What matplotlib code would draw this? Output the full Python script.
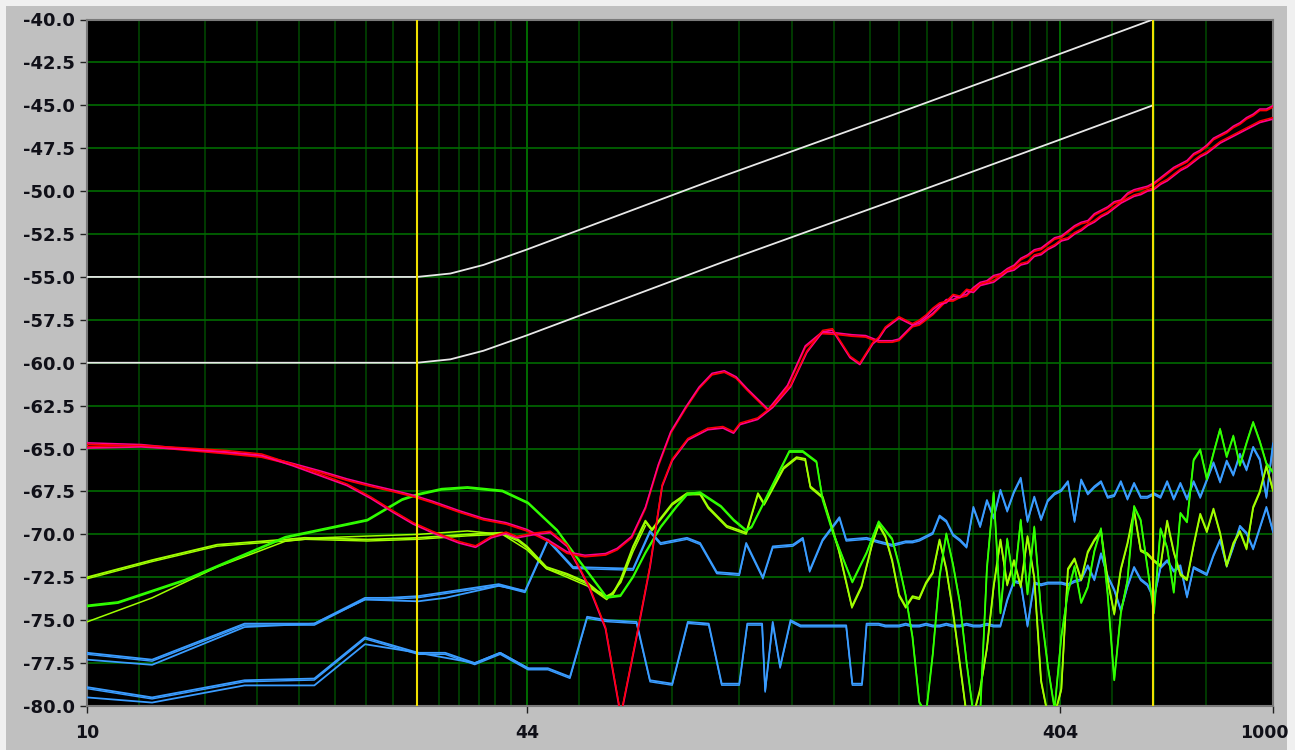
import numpy as np
import matplotlib.pyplot as plt
from matplotlib.patches import Rectangle
from matplotlib.transforms import offset_copy, ScaledTranslation

# frequency axis is log-like but piecewise between the labelled frequencies
AXIS_LOG_HZ = np.log10([10.0, 44.0, 404.0, 1000.0])
AXIS_FRAC = np.array([0.0, 0.371, 0.8204, 1.0])


def hz_to_frac(v):
    v = np.asarray(v, dtype=float)
    return np.interp(np.log10(np.clip(v, 1e-6, None)), AXIS_LOG_HZ, AXIS_FRAC)


def frac_to_hz(p):
    return 10 ** np.interp(p, AXIS_FRAC, AXIS_LOG_HZ)


# ---- limit lines ----
lim_hz = [10, 30.4, 34, 38, 44, 100, 200, 404, 600]
lim_hi_db = [-55.0, -55.0, -54.8, -54.3, -53.4, -49.1, -45.6, -42.0, -40.0]
lim_lo_db = [-60.0, -60.0, -59.8, -59.3, -58.4, -54.1, -50.6, -47.0, -45.0]

cursor_hz = [30.4, 600]

# ---- low-frequency part of the measured traces ----
ru_lo_hz = [10, 12, 14, 16, 18, 20, 22, 24, 26, 28, 30, 32, 35, 38, 41, 44, 48, 52, 56, 61,
            64, 68, 72, 76, 80, 85, 90, 95, 100, 105, 110, 120, 130, 140, 150, 160, 170, 180]
ru_lo_db = [-64.75, -64.85, -65.1, -65.3, -65.5, -65.95, -66.4, -66.85, -67.2, -67.5, -67.8, -68.15,
            -68.7, -69.15, -69.4, -69.8, -70.4, -71.1, -71.3, -71.2, -70.9, -70.2, -68.5, -66.0,
            -64.1, -62.7, -61.5, -60.7, -60.55, -60.9, -61.6, -62.8, -61.4, -59.1, -58.3, -58.35,
            -58.45, -58.5]

rl_lo_hz = [10, 12, 14, 16, 18, 20, 22, 24, 26, 28, 30, 32, 35, 37, 39, 41, 42.5, 45.5, 48.5, 52,
            54.5, 57, 61, 63, 65, 69.6, 73.4, 77.2, 80.5, 85.9, 93.3, 99.4, 103.9, 106.7, 114.8,
            122.3, 131.7, 140.9, 150.5, 156.8, 168.7, 175.7, 185.4]
rl_lo_db = [-64.97, -64.9, -65.05, -65.2, -65.4, -66.0, -66.6, -67.15, -67.9, -68.7, -69.4, -69.9,
            -70.5, -70.75, -70.2, -69.95, -70.2, -70.0, -69.9, -70.7, -71.9, -73.1, -75.5, -78.1,
            -80.6, -75.8, -71.9, -67.2, -65.7, -64.5, -63.9, -63.8, -64.1, -63.6, -63.3, -62.6,
            -61.4, -59.4, -58.2, -58.1, -59.7, -60.1, -58.9]

ga_lo_hz = [10, 11.1, 13.9, 19.5, 25.7, 28.9, 30.5, 33, 36, 40.5, 44.2, 49.9, 54.5, 61.3, 64.9,
            68.4, 72, 76.7, 82, 85.6, 90.4, 98.6, 104, 109.5, 112, 122, 131, 138.6, 146.7, 150.5,
            157, 166, 170.3, 180.7]
ga_lo_db = [-74.2, -74.0, -72.7, -70.2, -69.2, -68.0, -67.7, -67.4, -67.3, -67.5, -68.2, -69.8,
            -71.5, -73.7, -73.6, -72.5, -71.1, -69.6, -68.4, -67.7, -67.6, -68.4, -69.2, -69.8,
            -69.6, -67.2, -65.2, -65.2, -65.8, -68.0, -69.9, -71.9, -72.8, -71.1]

gb_lo_hz = [10, 12.45, 15.5, 19.5, 20.8, 25.7, 30.5, 36, 40.5, 42.7, 44, 47.7, 52, 56.5, 59,
            61.3, 63, 65, 68.4, 72, 74, 80.5, 85.6, 90.4, 93.5, 101, 109.5, 115, 118, 128, 135,
            140, 143, 150.5, 161, 170, 177, 185]
gb_lo_db = [-72.5, -71.5, -70.6, -70.3, -70.2, -70.3, -70.2, -70.0, -69.9, -70.3, -70.7, -71.9,
            -72.3, -72.8, -73.3, -73.6, -73.4, -72.6, -70.7, -69.2, -69.7, -68.2, -67.6, -67.6,
            -68.4, -69.5, -69.9, -67.6, -68.2, -66.1, -65.5, -65.6, -67.2, -67.8, -70.9, -74.2,
            -73.0, -70.5]

gc_hz = [10, 12.45, 15.5, 19.5, 21.9, 25.7, 30.5, 36, 40.5, 44, 47.7, 52, 56.5, 61.3, 65, 68.4, 72]
gc_db = [-75.1, -73.7, -71.9, -70.4, -70.2, -70.1, -70.0, -69.8, -70.0, -70.9, -72.0, -72.5,
         -73.0, -73.8, -72.8, -71.0, -69.5]

b1_lo_hz = [10, 12.45, 17, 21.5, 25.5, 27.5, 30.5, 40, 43.7, 48, 53.3, 68.4, 73.4, 76.7, 85.6,
            90.4, 96.9, 106.4, 109.5, 117.4, 122.3, 133, 138.6, 142.6, 150.5, 161.4, 166, 180.7]
b1_lo_db = [-76.9, -77.3, -75.2, -75.2, -73.7, -73.7, -73.6, -72.9, -73.3, -70.3, -71.9, -72.0,
            -69.8, -70.5, -70.2, -70.5, -72.2, -72.3, -70.5, -72.5, -70.7, -70.6, -70.2, -72.1,
            -70.3, -69.0, -70.3, -70.2]
b1b_hz = [10, 12.45, 17, 21.5, 25.5, 30.5, 33.4, 40, 43.7]
b1b_db = [-77.3, -77.6, -75.4, -75.2, -73.8, -73.9, -73.7, -73.0, -73.3]

b2_lo_hz = [10, 12.45, 17, 21.5, 25.5, 30.5, 33.4, 36.9, 40.2, 44.2, 48, 52.6, 56.5, 61.5, 69.4,
            73.4, 80.5, 85.9, 93.7, 98.9, 106.4, 110, 117, 118.5, 122.3, 126.1, 131.7, 137.3, 166,
            170.3, 177.3, 180.7]
b2_lo_db = [-78.9, -79.5, -78.5, -78.4, -76.0, -76.9, -76.9, -77.5, -76.9, -77.8, -77.8, -78.3,
            -74.8, -75.0, -75.1, -78.5, -78.7, -75.1, -75.2, -78.7, -78.7, -75.2, -75.2, -79.1,
            -75.1, -77.7, -75.0, -75.3, -75.3, -78.7, -78.7, -75.2]
b2b_hz = [10, 12.45, 17, 21.5, 25.5, 30.5, 36.9, 40.2, 44.2]
b2b_db = [-79.5, -79.8, -78.8, -78.8, -76.4, -76.9, -77.5, -76.9, -77.8]

# ---- high-frequency part: analyser bins from 190 Hz to 1 kHz ----
f_hi = np.geomspace(190, 1000, 60)

ru_hi_db = [-58.8, -58.8, -58.8, -58.7, -58.3, -57.9, -57.8, -57.5, -57.2, -56.8,
            -56.4, -56.4, -56.2, -56.1, -55.7, -55.4, -55.3, -55.0, -54.9, -54.6,
            -54.4, -54.0, -53.8, -53.5, -53.4, -53.1, -52.8, -52.7, -52.4, -52.1,
            -51.9, -51.8, -51.4, -51.2, -51.0, -50.7, -50.6, -50.2, -50.0, -49.9,
            -49.8, -49.6, -49.3, -49.0, -48.7, -48.5, -48.3, -47.9, -47.7, -47.4,
            -47.0, -46.8, -46.6, -46.3, -46.1, -45.8, -45.6, -45.3, -45.3, -45.1]
rl_hi_db = [-58.6, -58.0, -57.7, -57.4, -57.6, -57.8, -57.6, -57.3, -56.9, -56.6,
            -56.5, -56.1, -56.2, -55.8, -55.9, -55.5, -55.4, -55.3, -55.0, -54.7,
            -54.6, -54.3, -54.2, -53.8, -53.7, -53.4, -53.2, -52.9, -52.8, -52.5,
            -52.3, -52.0, -51.8, -51.5, -51.3, -51.0, -50.7, -50.5, -50.3, -50.2,
            -50.0, -49.9, -49.6, -49.4, -49.1, -48.8, -48.6, -48.3, -48.0, -47.8,
            -47.5, -47.2, -47.0, -46.8, -46.6, -46.4, -46.2, -46.0, -45.9, -45.8]
ga_hi_db = [-69.3, -69.8, -70.3, -71.8, -73.6, -76.0, -79.8, -80.5, -77.0, -72.5,
            -70.0, -71.8, -74.0, -77.5, -80.5, -80.5, -72.0, -67.6, -74.6, -70.3,
            -73.0, -69.2, -73.5, -69.6, -74.5, -77.7, -80.2, -76.0, -73.4, -71.9,
            -74.0, -73.1, -71.0, -69.7, -73.5, -78.5, -74.6, -72.7, -68.4, -69.2,
            -71.9, -74.6, -69.7, -70.8, -73.4, -68.8, -69.3, -65.7, -65.1, -66.8,
            -65.3, -63.9, -65.5, -64.3, -66.0, -64.7, -63.5, -64.6, -65.9, -66.4]
gb_hi_db = [-69.4, -70.1, -71.5, -73.5, -74.2, -73.6, -73.7, -72.8, -72.2, -70.3,
            -72.0, -74.5, -77.5, -80.5, -80.5, -79.0, -76.6, -73.0, -70.3, -72.9,
            -71.5, -73.0, -70.1, -72.5, -78.5, -80.5, -80.5, -79.0, -72.0, -71.4,
            -72.6, -71.0, -70.3, -69.8, -72.6, -74.6, -72.0, -70.5, -68.6, -70.9,
            -71.1, -71.5, -71.8, -69.2, -71.0, -72.3, -72.6, -70.6, -68.8, -69.8,
            -68.5, -69.9, -71.8, -70.5, -69.8, -70.8, -68.4, -67.5, -66.0, -67.4]
b1_hi_db = [-70.4, -70.5, -70.6, -70.5, -70.4, -70.4, -70.3, -70.1, -69.9, -68.9,
            -69.2, -70.0, -70.3, -70.7, -68.4, -69.5, -68.0, -69.0, -67.4, -68.6,
            -67.5, -66.7, -69.2, -67.8, -69.1, -68.0, -67.6, -67.4, -66.9, -69.2,
            -66.8, -67.6, -67.2, -66.9, -67.8, -67.7, -66.9, -67.9, -67.0, -67.8,
            -67.8, -67.6, -67.8, -66.9, -67.9, -67.0, -67.9, -66.9, -67.8, -66.8,
            -65.8, -66.9, -65.7, -66.5, -65.3, -66.2, -64.9, -65.6, -67.8, -64.7]
b2_hi_db = [-75.2, -75.3, -75.3, -75.3, -75.2, -75.3, -75.3, -75.2, -75.3, -75.3,
            -75.2, -75.3, -75.3, -75.2, -75.3, -75.3, -75.2, -75.3, -75.3, -73.8,
            -72.7, -72.8, -75.3, -72.8, -72.9, -72.8, -72.8, -72.8, -72.9, -72.7,
            -72.6, -71.8, -72.6, -71.1, -72.4, -73.2, -74.4, -73.0, -71.9, -72.6,
            -72.9, -73.7, -71.9, -71.5, -72.1, -71.8, -73.6, -71.9, -72.1, -72.3,
            -71.2, -70.3, -71.8, -70.7, -69.5, -69.9, -70.8, -69.6, -68.4, -69.8]

# colours
RED, PINK = '#ff0000', '#ff0090'
GREEN, LIME = '#30ff00', '#a0ff00'
BLUE = '#3a9cff'

fig = plt.figure(figsize=(12.95, 7.5), dpi=100)
fig.patch.set_facecolor('#f0f0f0')
fig.add_artist(Rectangle((6 / 1295, 0), 1281 / 1295, 744 / 750, transform=fig.transFigure,
                         facecolor='#c0c0c0', edgecolor='none', zorder=-10))

ax = fig.add_axes([87 / 1295, 44 / 750, 1186 / 1295, 686.5 / 750])
ax.set_facecolor('black')
ax.set_xscale('function', functions=(hz_to_frac, frac_to_hz))
ax.set_xlim(10, 1000)
ax.set_ylim(-80, -40)

# grid
minor_hz = [11.91, 14.88, 17.73, 20.42, 23.05, 25.59, 28.03, 30.39, 32.72, 34.99, 37.43, 39.51,
            41.70, 54.6, 80.4, 106.3, 132.5, 157.8, 183.3, 206.8, 232.4, 257.8, 281.4, 305.8,
            330.8, 356.6, 382.7, 504, 603, 752]
for f in minor_hz:
    ax.axvline(f, color='#004a00', lw=1.1, zorder=1)
for f in [44, 404]:
    ax.axvline(f, color='#007d00', lw=1.2, zorder=1)
for y in np.arange(-77.5, -40, 2.5):
    ax.axhline(y, color='#006a00', lw=1.2, zorder=1)


def trace(x, y, color, lw=1.3, dy=0.0, color2=None, z=3):
    ax.plot(x, y, color=color, lw=lw, zorder=z)
    if dy:
        shifted = offset_copy(ax.transData, fig=fig, x=0, y=dy, units='dots')
        ax.plot(x, y, color=color2 or color, lw=lw * 0.8, zorder=z, transform=shifted)


trace(b2_lo_hz + list(f_hi), b2_lo_db + b2_hi_db, BLUE, dy=-1.5)
trace(b2b_hz, b2b_db, BLUE)
trace(b1_lo_hz + list(f_hi), b1_lo_db + b1_hi_db, BLUE, dy=-1.5)
trace(b1b_hz, b1b_db, BLUE)

trace(gc_hz, gc_db, LIME, lw=1.1)
trace(gb_lo_hz + list(f_hi), gb_lo_db + gb_hi_db, LIME, dy=-1.5)
trace(ga_lo_hz + list(f_hi), ga_lo_db + ga_hi_db, GREEN, dy=1.2)

trace(ru_lo_hz + list(f_hi), ru_lo_db + ru_hi_db, RED, dy=1.5, color2=PINK, z=4)
trace(rl_lo_hz + list(f_hi), rl_lo_db + rl_hi_db, PINK, dy=1.5, color2=RED, z=4)

ax.plot(lim_hz, lim_hi_db, color='#e8e8e8', lw=1.3, zorder=5)
ax.plot(lim_hz, lim_lo_db, color='#e8e8e8', lw=1.3, zorder=5)

for f in cursor_hz:
    ax.axvline(f, color='#f0e000', lw=1.5, zorder=6)

# axes decoration
ax.set_xticks([10, 44, 404, 1000])
ax.set_xticklabels(['10', '44', '404', '1000'])
ax.set_xticks([], minor=True)
ax.set_yticks(np.arange(-80, -39.9, 2.5))
ax.set_yticklabels(['%.1f' % v for v in np.arange(-80, -39.9, 2.5)])
ax.tick_params(axis='both', direction='out', length=5, width=1, color='#202020',
               labelsize=13, labelcolor='#101018')
ax.tick_params(axis='y', pad=4)
ax.tick_params(axis='x', pad=8, labelsize=12.5)
for lab in ax.get_yticklabels() + ax.get_xticklabels():
    lab.set_fontweight('bold')
# keep the last frequency label inside the panel
last = ax.get_xticklabels()[-1]
last.set_transform(last.get_transform() + ScaledTranslation(-6 / 72, 0, fig.dpi_scale_trans))

for side in ['top', 'bottom', 'left', 'right']:
    ax.spines[side].set_color('#7a7a7a')
    ax.spines[side].set_linewidth(1.5)

fig.savefig('out.png', dpi=100, facecolor=fig.get_facecolor())
